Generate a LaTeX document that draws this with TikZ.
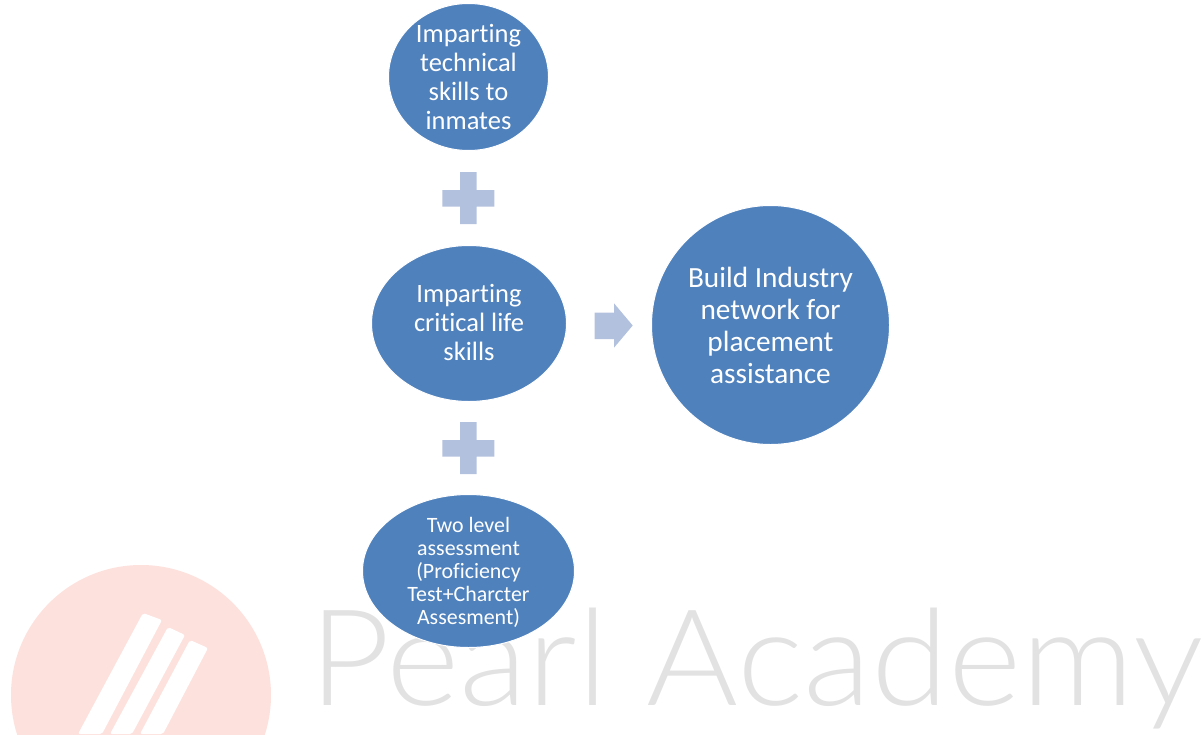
\documentclass[tikz,border=0pt]{standalone}
\usepackage{fontspec}
\setmainfont[Ligatures=NoCommon]{Carlito}
\newfontfamily\logofont[UprightFont=* Light]{Lato}
\usetikzlibrary{shapes.geometric}
\definecolor{bluefill}{HTML}{4F81BD}
\definecolor{paleblue}{HTML}{B2C1DD}
\definecolor{logored}{HTML}{FDE1DD}
\definecolor{logogrey}{HTML}{E2E2E2}
\tikzset{
  bubble/.style={ellipse,draw=white,line width=1pt,fill=bluefill,inner sep=0pt},
  bubbletext/.style={text=white,align=center,inner sep=0pt},
  signmark/.style={fill=paleblue},
  logostripe/.style={fill=white}
}
\begin{document}
\begin{tikzpicture}[x=1pt,y=-1pt]
\useasboundingbox (0,0) rectangle (1204,734);
\clip (0,0) rectangle (1204,734);
% logo
\fill[logored] (141,695) circle (130);
\fill[logostripe,rounded corners=2pt] (143,613) -- (162,620) -- (102,734) -- (78,734) -- cycle;
\fill[logostripe,rounded corners=2pt] (168,627) -- (185,635) -- (132,734) -- (110,734) -- cycle;
\fill[logostripe,rounded corners=2pt] (190,640) -- (208,648) -- (163,734) -- (140,734) -- cycle;
\node[anchor=base west,inner sep=0pt,text=logogrey] (logotext) at (309.5,705)
  {\scalebox{1.048}[1]{\logofont\fontsize{134}{134}\selectfont Pearl Academy}};
% signs
\fill[signmark] (460,172) -- (476.7,172) -- (476.7,190) -- (494.3,190) -- (494.3,206.7) -- (476.7,206.7) -- (476.7,224) -- (460,224) -- (460,206.7) -- (442.3,206.7) -- (442.3,190) -- (460,190) -- cycle;
\fill[signmark] (460,422) -- (476.7,422) -- (476.7,440) -- (494.3,440) -- (494.3,456.7) -- (476.7,456.7) -- (476.7,474) -- (460,474) -- (460,456.7) -- (442.3,456.7) -- (442.3,440) -- (460,440) -- cycle;
\fill[signmark] (594.7,312.7) -- (614,312.7) -- (614,303.3) -- (632.7,325.5) -- (614,347.7) -- (614,339) -- (594.7,339) -- cycle;
% bubbles
\node[bubble,minimum width=160pt,minimum height=147pt] (skills) at (468.5,77) {};
\node[bubbletext,font=\fontsize{26.5}{29}\selectfont,yshift=0.5pt] (skillstext) at (skills.center) {Imparting\\technical\\skills to\\inmates};
\node[bubble,minimum width=195pt,minimum height=156pt] (life) at (469,323.5) {};
\node[bubbletext,font=\fontsize{26.5}{29}\selectfont,yshift=1pt] (lifetext) at (life.center) {Imparting\\critical life\\skills};
\node[bubble,minimum width=212pt,minimum height=153pt] (assess) at (468.5,571) {};
\node[bubbletext,font=\fontsize{21.9}{23}\selectfont,yshift=-1pt] (assesstext) at (assess.center) {Two level\\assessment\\(Proficiency\\Test+Charcter\\Assesment)};
\node[bubble,minimum width=238pt,minimum height=239pt] (network) at (770.5,325) {};
\node[bubbletext,font=\fontsize{29.3}{32}\selectfont] (networktext) at (network.center) {Build Industry\\network for\\placement\\assistance};
\end{tikzpicture}
\end{document}
